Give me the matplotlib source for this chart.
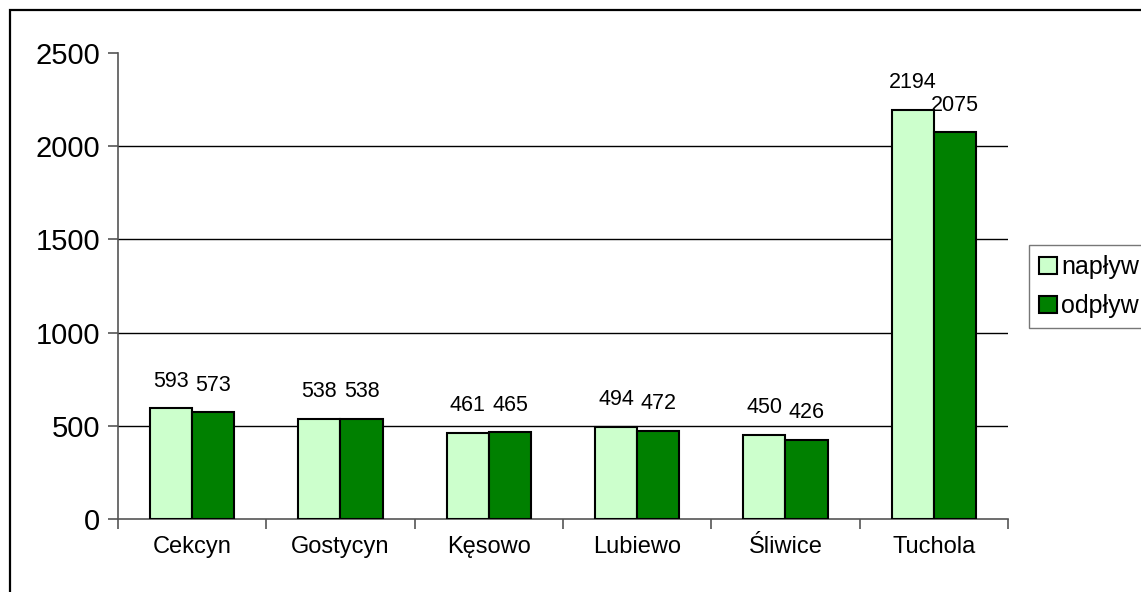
import matplotlib
matplotlib.use("Agg")
import matplotlib.pyplot as plt
from matplotlib.patches import Rectangle
import numpy as np

plt.rcParams['font.family'] = ['Liberation Sans', 'DejaVu Sans']

categories = ["Cekcyn", "Gostycyn", "Kęsowo", "Lubiewo", "Śliwice", "Tuchola"]
naplyw = [593, 538, 461, 494, 450, 2194]
odplyw = [573, 538, 465, 472, 426, 2075]
series_names = ["napływ", "odpływ"]
yticks = [0, 500, 1000, 1500, 2000, 2500]

W, H = 1141, 592
fig = plt.figure(figsize=(W / 100, H / 100), dpi=100)
ax = fig.add_axes([118 / W, 1 - 519 / H, (1008 - 118) / W, (519 - 53) / H])

x = np.arange(len(categories))
bw = 0.285
b1 = ax.bar(x - bw / 2, naplyw, bw, color="#CCFFCC", edgecolor="black", linewidth=1.5, label=series_names[0], zorder=3)
b2 = ax.bar(x + bw / 2, odplyw, bw, color="#008000", edgecolor="black", linewidth=1.5, label=series_names[1], zorder=3)

for bars, vals in ((b1, naplyw), (b2, odplyw)):
    for r, v in zip(bars, vals):
        ax.annotate(str(v), (r.get_x() + r.get_width() / 2, v), xytext=(0, 12),
                    textcoords="offset points", ha="center", va="bottom", fontsize=15.5)

ax.set_xlim(-0.5, len(categories) - 0.5)
ax.set_ylim(0, 2500)
ax.set_yticks(yticks)
ax.set_yticklabels([str(t) for t in yticks], fontsize=21)
for t in yticks[1:-1]:
    ax.axhline(t, color="black", linewidth=1.0, zorder=1)

ax.set_xticks(x)
ax.set_xticklabels(categories, fontsize=17)
ax.set_xticks(np.arange(len(categories) + 1) - 0.5, minor=True)
ax.tick_params(axis="x", which="major", length=0, pad=12)
ax.tick_params(axis="x", which="minor", length=7, width=1.2, color="#555555", direction="out")
ax.tick_params(axis="y", length=7, width=1.2, color="#555555", direction="out", pad=6)

for s in ("top", "right"):
    ax.spines[s].set_visible(False)
for s in ("left", "bottom"):
    ax.spines[s].set_color("#555555")
    ax.spines[s].set_linewidth(1.2)

leg = fig.legend(handles=[b1, b2], labels=series_names, loc="upper left",
                 bbox_to_anchor=(1029 / W, 1 - 245 / H), fontsize=18,
                 frameon=True, fancybox=False, edgecolor="#555555",
                 handlelength=0.7, handleheight=0.7, handletextpad=0.2,
                 borderpad=0.4, labelspacing=0.6, borderaxespad=0)
leg.get_frame().set_linewidth(1.0)

fig.patches.append(Rectangle((10 / W, -0.2), 1.2, 1 - 10 / H + 0.2, transform=fig.transFigure,
                             fill=False, edgecolor="black", linewidth=1.6))

fig.savefig("out.png", dpi=100)
